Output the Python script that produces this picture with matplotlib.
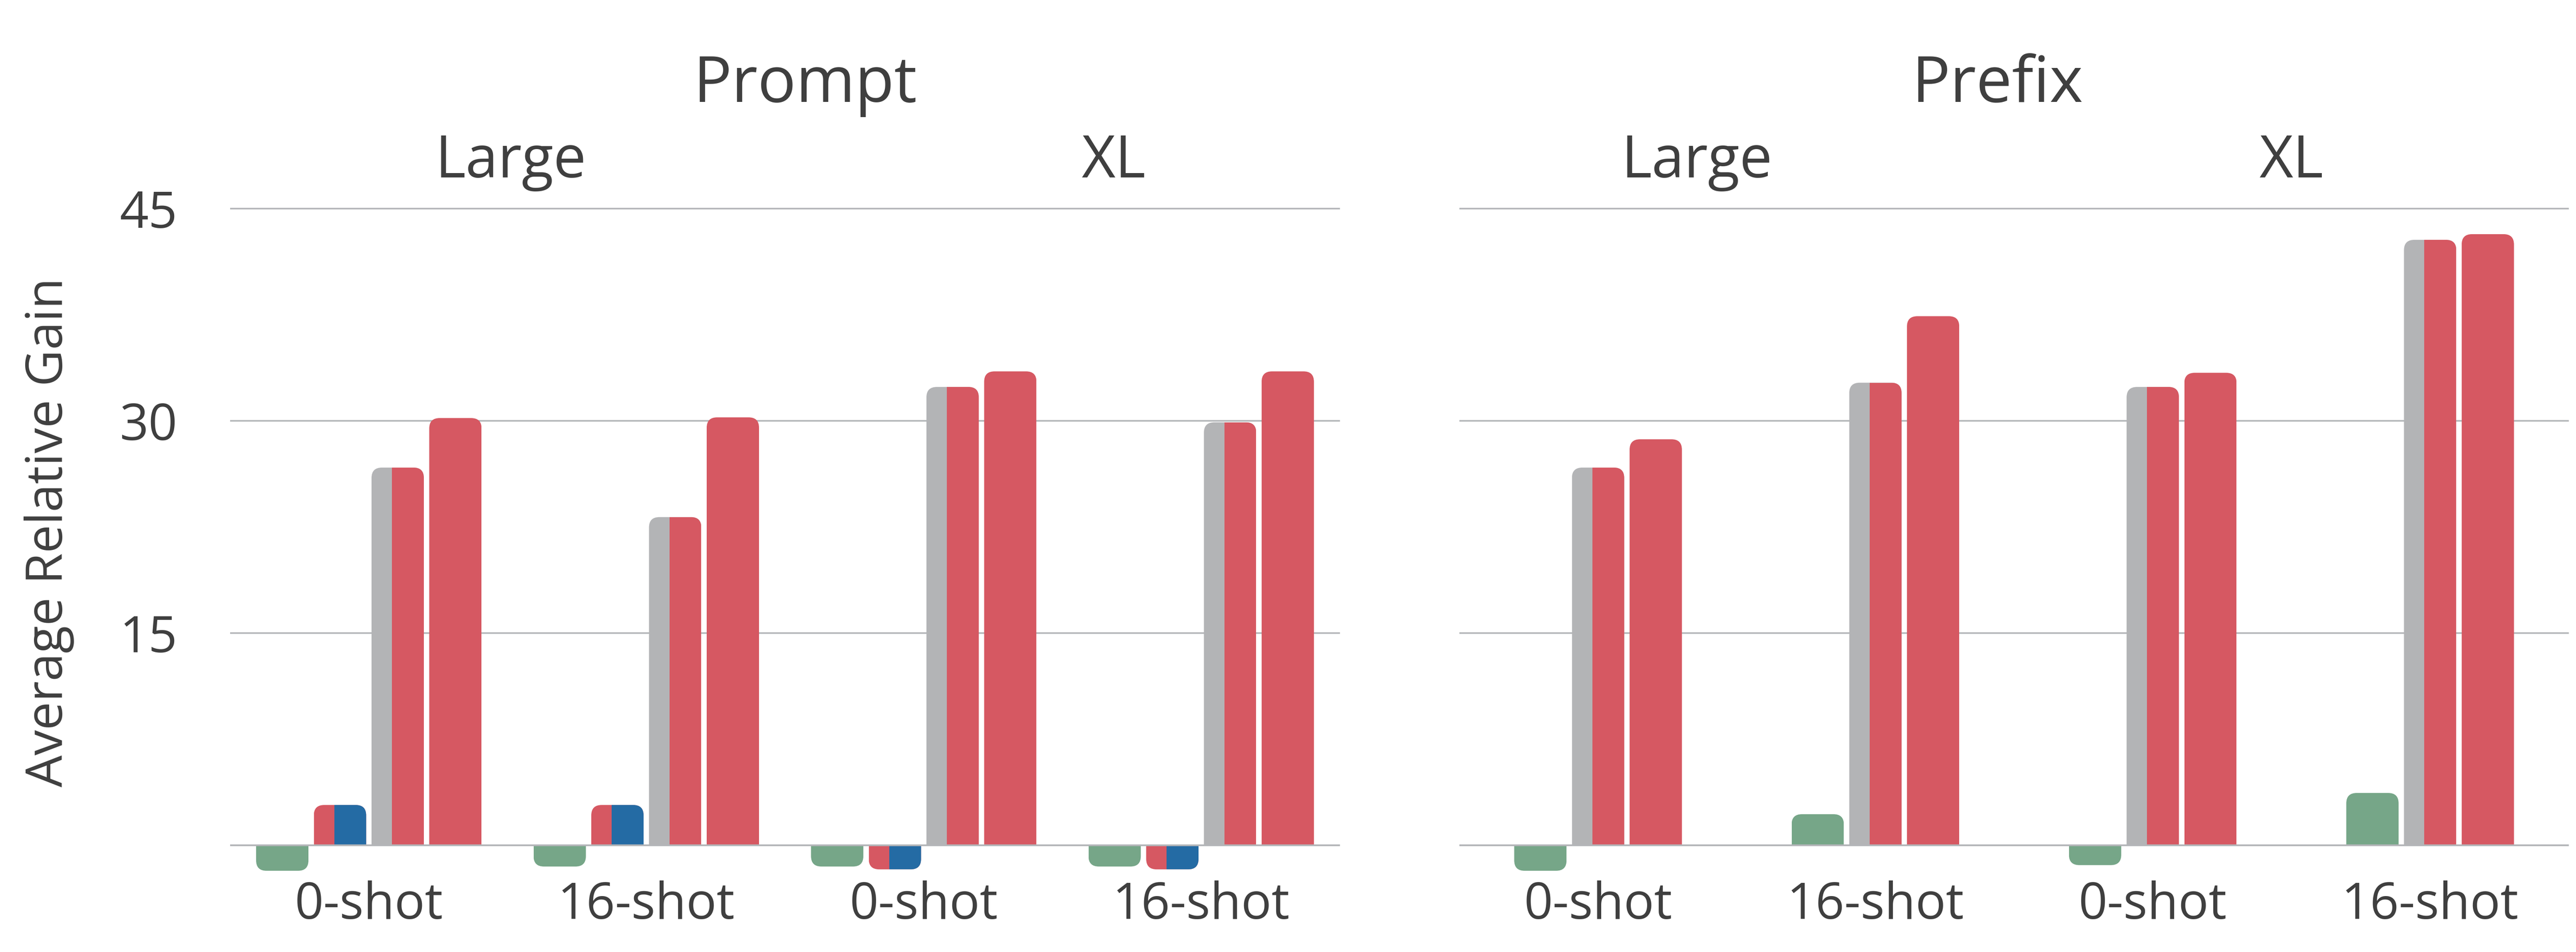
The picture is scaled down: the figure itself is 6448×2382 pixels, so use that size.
import numpy as np
import matplotlib.pyplot as plt
from matplotlib.patches import FancyBboxPatch, Rectangle

plt.rcParams['font.family'] = ['Open Sans', 'DejaVu Sans']

# ---- data ----
shots = ["0-shot", "16-shot", "0-shot", "16-shot"]
sizes = ["Large", "XL"]

# Prompt panel: green, red bar with blue overlay, gray bar with red overlay, red
prompt_green = [-1.8, -1.5, -1.5, -1.5]
prompt_split = [2.85, 2.85, -1.7, -1.7]
prompt_gray = [26.7, 23.2, 32.4, 29.9]
prompt_red = [30.2, 30.25, 33.5, 33.5]

# Prefix panel: green, gray bar with red overlay, red
prefix_green = [-1.8, 2.2, -1.4, 3.7]
prefix_gray = [26.7, 32.7, 32.4, 42.8]
prefix_red = [28.7, 37.4, 33.4, 43.2]

GREEN = "#76a688"
RED = "#d65862"
BLUE = "#246ba4"
GRAY = "#b3b4b6"
GRID = "#b3b5b8"
TXT = "#3f3f3f"

W, H = 6448, 2382
fig = plt.figure(figsize=(W / 100, H / 100), dpi=100)

ylim = (-2.4, 45.4)
bottom = 1 - 2200 / H
height = (2200 - 508) / H
ax_l = fig.add_axes([576 / W, bottom, 2778 / W, height])
ax_r = fig.add_axes([3653 / W, bottom, 2777 / W, height])

pitch = 0.208
bw = 0.1886
frac = 0.61
r_px = 26


def rounded(ax, rect, color, front=None):
    xpu = ax.bbox.width / (ax.get_xlim()[1] - ax.get_xlim()[0])
    ypu = ax.bbox.height / (ax.get_ylim()[1] - ax.get_ylim()[0])
    rx = r_px / xpu
    ry = r_px / ypu
    x0, w = rect.get_x(), rect.get_width()
    y0, h = rect.get_y(), rect.get_height()
    lo, hi = min(y0, y0 + h), max(y0, y0 + h)
    rect.set_visible(False)
    if h >= 0:
        blo, bh = lo - ry, hi - lo + ry
        clip = Rectangle((x0, lo), w, hi - lo + 5, transform=ax.transData)
    else:
        blo, bh = lo, hi - lo + ry
        clip = Rectangle((x0, lo - 5), w, hi - lo + 5, transform=ax.transData)

    def shape():
        return FancyBboxPatch((x0, blo), w, bh,
                              boxstyle=f"round,pad=0,rounding_size={rx}",
                              mutation_aspect=xpu / ypu,
                              fc=color, ec="none", lw=0,
                              transform=ax.transData)

    p = shape()
    ax.add_patch(p)
    p.set_zorder(2)
    p.set_clip_path(clip)
    if front is not None:
        fr = Rectangle((x0 + w * (1 - frac), lo), w * frac, hi - lo,
                       fc=front, ec="none", lw=0, zorder=2.5)
        ax.add_patch(fr)
        fr.set_clip_path(shape())


def style(ax, show_labels):
    ax.set_xlim(-0.5, 3.5)
    ax.set_ylim(*ylim)
    ax.set_yticks([0, 15, 30, 45])
    ax.set_yticklabels(["", "15", "30", "45"] if show_labels else [])
    ax.yaxis.grid(True, color=GRID, lw=2.8)
    ax.set_axisbelow(True)
    ax.axhline(0, color=GRID, lw=3.2, zorder=3)
    for s in ax.spines.values():
        s.set_visible(False)
    ax.set_xticks(np.arange(4))
    ax.set_xticklabels(shots)
    ax.tick_params(axis="both", length=0, labelsize=91, colors=TXT)
    ax.tick_params(axis="y", pad=95)
    ax.tick_params(axis="x", pad=2)


x = np.arange(4)
style(ax_l, True)
style(ax_r, False)

# left panel, four slots per group
b = ax_l.bar(x - 1.5 * pitch, prompt_green, bw, color=GREEN)
for r in b:
    rounded(ax_l, r, GREEN)
b = ax_l.bar(x - 0.5 * pitch, prompt_split, bw, color=RED)
for r in b:
    rounded(ax_l, r, RED, front=BLUE)
b = ax_l.bar(x + 0.5 * pitch, prompt_gray, bw, color=GRAY)
for r in b:
    rounded(ax_l, r, GRAY, front=RED)
b = ax_l.bar(x + 1.5 * pitch, prompt_red, bw, color=RED)
for r in b:
    rounded(ax_l, r, RED)

# right panel, three slots per group
b = ax_r.bar(x - pitch, prefix_green, bw, color=GREEN)
for r in b:
    rounded(ax_r, r, GREEN)
b = ax_r.bar(x, prefix_gray, bw, color=GRAY)
for r in b:
    rounded(ax_r, r, GRAY, front=RED)
b = ax_r.bar(x + pitch, prefix_red, bw, color=RED)
for r in b:
    rounded(ax_r, r, RED)

# titles
fig.text(2015 / W, 1 - 255 / H, "Prompt", ha="center", va="baseline",
         fontsize=115, color=TXT)
fig.text(5000 / W, 1 - 255 / H, "Prefix", ha="center", va="baseline",
         fontsize=115, color=TXT)
for xp, lab in zip([1279, 2788, 4248, 5736], sizes * 2):
    fig.text(xp / W, 1 - 444 / H, lab, ha="center", va="baseline",
             fontsize=105, color=TXT)

fig.text(123 / W, 1 - 1332 / H, "Average Relative Gain", rotation=90,
         ha="center", va="center", fontsize=91, color=TXT)

fig.savefig("out.png", dpi=100, facecolor="white")
